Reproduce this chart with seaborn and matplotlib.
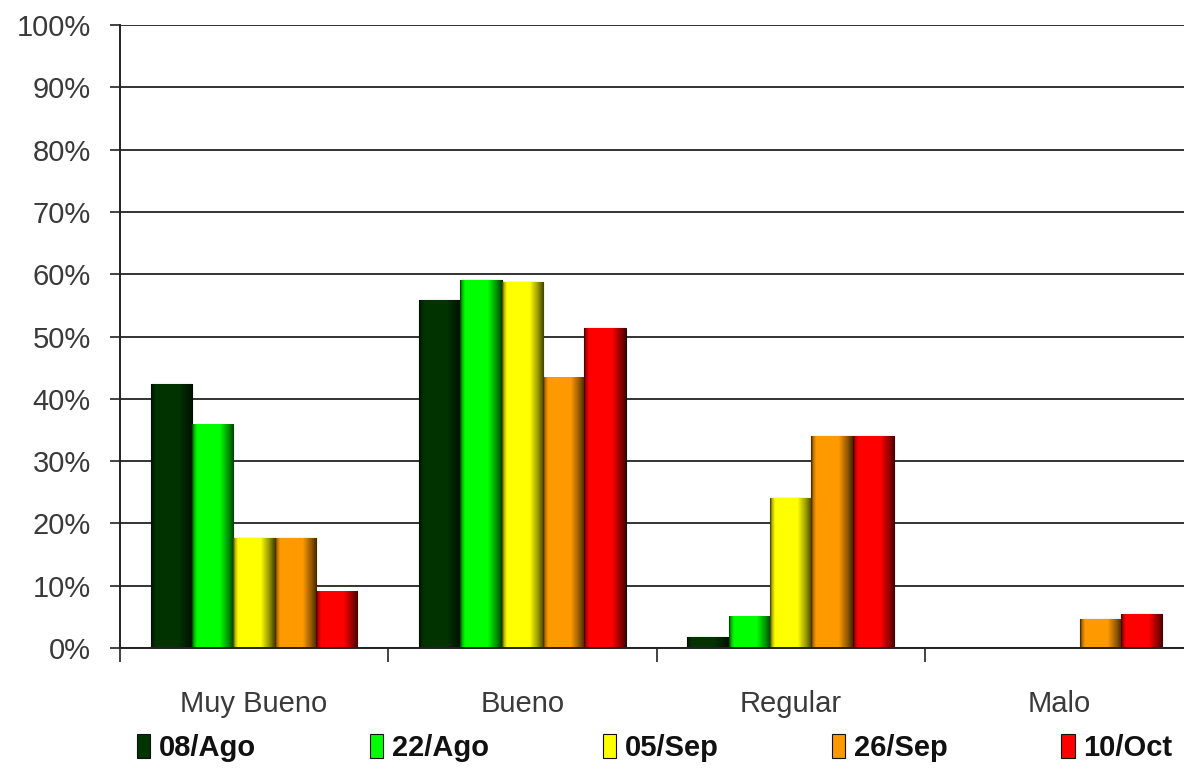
import matplotlib
matplotlib.use("Agg")
import matplotlib.pyplot as plt
import matplotlib.colors as mcolors
from matplotlib.patches import Rectangle
from matplotlib.ticker import FixedLocator, PercentFormatter
import numpy as np
import pandas as pd
import seaborn as sns

# data (percent)
categories = ["Muy Bueno", "Bueno", "Regular", "Malo"]
series = ["08/Ago", "22/Ago", "05/Sep", "26/Sep", "10/Oct"]
ago08 = [42.3, 55.8, 1.7, 0.0]
ago22 = [35.8, 59.0, 5.0, 0.0]
sep05 = [17.6, 58.7, 24.0, 0.0]
sep26 = [17.6, 43.4, 34.0, 4.6]
oct10 = [9.0, 51.3, 34.0, 5.4]
colors = ["#003300", "#00ff00", "#ffff00", "#ff9900", "#ff0000"]

rows = []
for name, vals in zip(series, [ago08, ago22, sep05, sep26, oct10]):
    for cat, v in zip(categories, vals):
        rows.append({"categoria": cat, "fecha": name, "pct": v})
df = pd.DataFrame(rows)

sns.set_style("white")
plt.rcParams["font.family"] = ["Liberation Sans", "DejaVu Sans"]

fig = plt.figure(figsize=(11.84, 7.73), dpi=100)
ax = fig.add_axes([120 / 1184, 1 - 648 / 773, 1073 / 1184, (648 - 25) / 773])

sns.barplot(
    data=df, x="categoria", y="pct", hue="fecha",
    order=categories, hue_order=series, palette=colors, saturation=1,
    width=0.77, edgecolor="#111111", linewidth=0.8, ax=ax, legend=False,
)

# cylinder-like shading on each bar
t = np.linspace(0, 1, 256)
prof = np.interp(t, [0, 0.05, 0.12, 0.66, 0.86, 1.0], [0.2, 0.7, 1.0, 1.0, 0.6, 0.25])
for bar in ax.patches:
    h = bar.get_height()
    if h <= 0:
        continue
    rgb = np.array(mcolors.to_rgb(bar.get_facecolor()))
    img = np.clip(prof[:, None] * rgb[None, :], 0, 1)[None, :, :]
    x0 = bar.get_x()
    ax.imshow(img, extent=[x0, x0 + bar.get_width(), 0, h], aspect="auto",
              zorder=bar.get_zorder() + 0.01, interpolation="nearest")

ax.set_xlim(-0.5, 3.5)
ax.set_ylim(0, 100)
ax.set_axisbelow(True)
ax.set_yticks(np.arange(0, 101, 10))
ax.yaxis.set_major_formatter(PercentFormatter(decimals=0))
ax.grid(axis="y", color="#333333", linewidth=1.4)
ax.grid(axis="x", visible=False)

for s in ["top", "right"]:
    ax.spines[s].set_visible(False)
for s in ["left", "bottom"]:
    ax.spines[s].set_color("#222222")
    ax.spines[s].set_linewidth(1.4)

ax.set_xlabel("")
ax.set_ylabel("")
ax.tick_params(axis="y", direction="out", length=7, width=1.2, color="#222222",
               pad=14, labelsize=21, labelcolor="#3a3a3a", left=True)
ax.tick_params(axis="x", which="major", length=0, pad=30, labelsize=21,
               labelcolor="#3a3a3a")
ax.xaxis.set_minor_locator(FixedLocator([-0.5, 0.5, 1.5, 2.5, 3.5]))
ax.tick_params(axis="x", which="minor", direction="out", length=10, width=1.2,
               color="#222222", bottom=True)

handles = [Rectangle((0, 0), 1, 1, facecolor=c, edgecolor="#111111", linewidth=0.8)
           for c in colors]
leg = fig.legend(handles, series, loc="center", bbox_to_anchor=(0.553, 1 - 748 / 773),
                 ncol=5, frameon=False, handlelength=0.45, handleheight=0.9,
                 handletextpad=0.3, columnspacing=3.9,
                 prop={"size": 21, "weight": "bold"})
for txt in leg.get_texts():
    txt.set_color("#111111")

fig.savefig("out.png", dpi=100)
